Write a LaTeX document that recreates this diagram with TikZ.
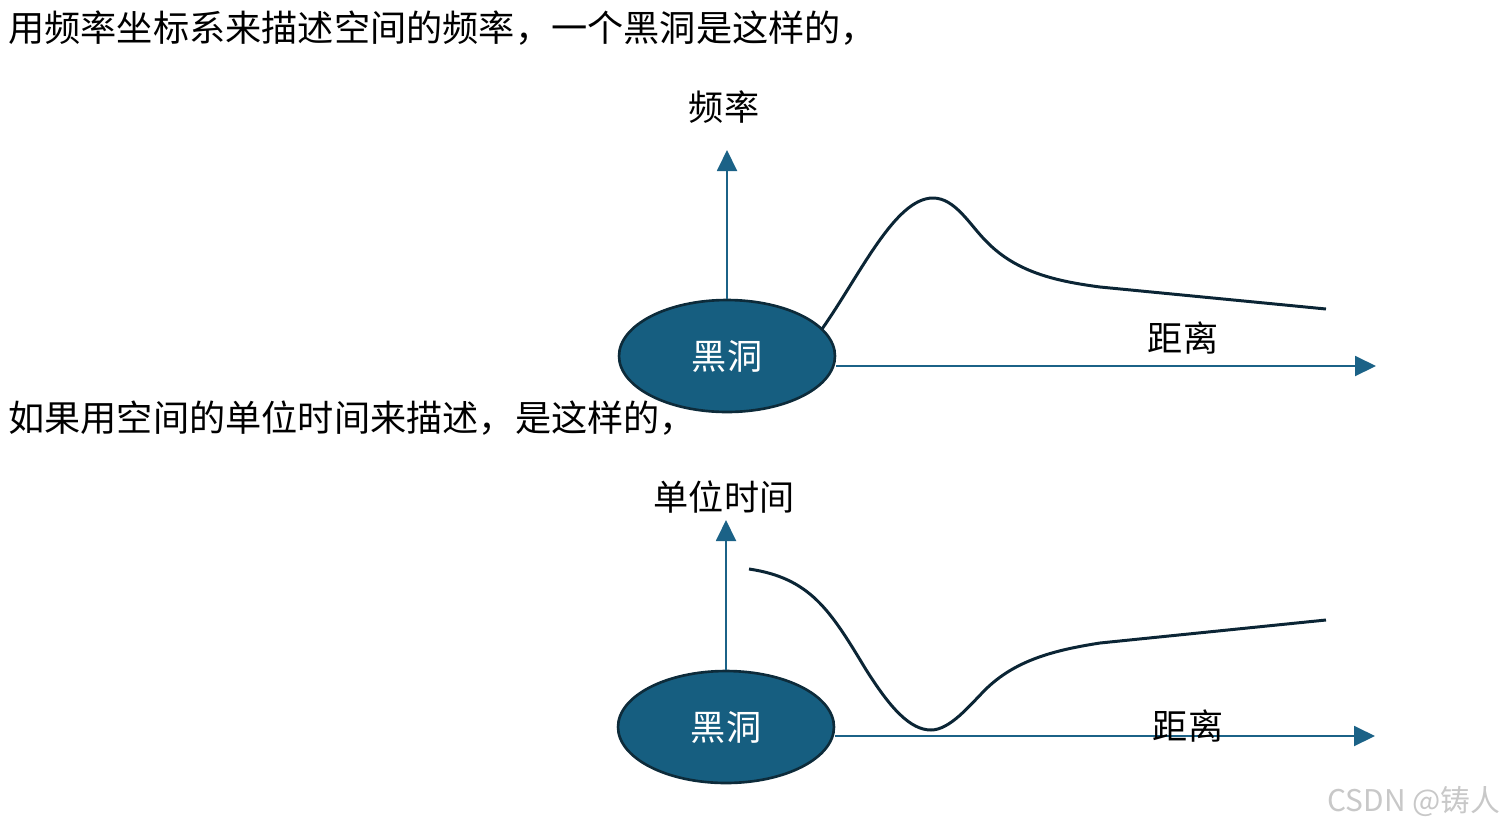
\documentclass[tikz,border=0pt]{standalone}
\usepackage{tikz}
\usetikzlibrary{arrows.meta,positioning,shapes.geometric,calc}
\usepackage{xcolor}
\usepackage{fontspec}
\setmainfont{Noto Sans CJK SC}
\definecolor{holefill}{HTML}{165E80}
\definecolor{holeedge}{HTML}{0D2B3A}
\definecolor{axiscolor}{HTML}{1B6287}
\definecolor{curvecolor}{HTML}{0B2535}
\definecolor{markgray}{HTML}{C8C8C8}
\tikzset{
  holenode/.style={ellipse,draw=holeedge,line width=1.5pt,fill=holefill,text=white,
        minimum width=4.32cm,minimum height=2.24cm,inner sep=0pt,font=\fontsize{20}{24}\selectfont},
  axisline/.style={draw=axiscolor,line width=1.1pt,-{Triangle[length=0.42cm,width=0.4cm]}},
  trend/.style={draw=curvecolor,line width=1.7pt},
  caption/.style={font=\fontsize{20}{24}\selectfont,inner sep=0pt},
  sentence/.style={font=\fontsize{20.6}{24}\selectfont,inner sep=0pt,anchor=west},
}

\begin{document}
\begin{tikzpicture}[x=0.02cm,y=-0.02cm]
  \useasboundingbox (0,0) rectangle (1504,829);
  % text lines
  \node[sentence] (line1) at (8,28) {用频率坐标系来描述空间的频率，一个黑洞是这样的，};
  \node[sentence] (line2) at (8,418) {如果用空间的单位时间来描述，是这样的，};

  % upper diagram
  \node[holenode] (hole1) at (727,356) {黑洞};
  \coordinate (ytip1) at (727,150);
  \coordinate (xtip1) at (1376,366);
  \draw[axisline] (hole1.north) -- (ytip1);
  \draw[axisline] (hole1.east |- xtip1) -- (xtip1);
  \node[caption] (ylab1) at (724,107) {频率};
  \node[caption] (xlab1) at (1183,338) {距离};
  \draw[trend] (822,329) .. controls (860,275) and (895,198) .. (933,198)
    .. controls (955,198) and (970,225) .. (985,240)
    .. controls (1015,272) and (1055,281) .. (1100,287) -- (1326,309);

  % lower diagram
  \node[holenode] (hole2) at (726,727) {黑洞};
  \coordinate (ytip2) at (726,520);
  \coordinate (xtip2) at (1375,736);
  \draw[axisline] (hole2.north) -- (ytip2);
  \draw[axisline] (hole2.east |- xtip2) -- (xtip2);
  \node[caption] (ylab2) at (724,497) {单位时间};
  \node[caption] (xlab2) at (1188,726) {距离};
  \draw[trend] (749,569) .. controls (810,578) and (830,610) .. (865,668)
    .. controls (890,708) and (910,730) .. (931,730)
    .. controls (950,730) and (970,705) .. (985,690)
    .. controls (1015,660) and (1055,650) .. (1100,643) -- (1326,620);

  \node[font=\fontsize{17}{20}\selectfont,text=markgray,inner sep=0pt] (mark) at (1414,802) {CSDN @铸人};
\end{tikzpicture}
\end{document}
